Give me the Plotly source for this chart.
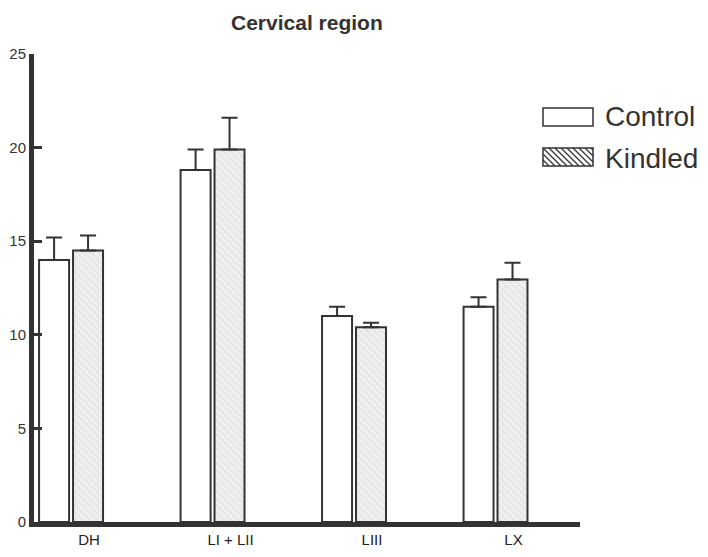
import plotly.graph_objects as go

categories = ["DH", "LI + LII", "LIII", "LX"]
control = [14.0, 18.8, 11.0, 11.5]
control_err = [1.2, 1.1, 0.5, 0.5]
kindled = [14.5, 19.9, 10.4, 12.95]
kindled_err = [0.8, 1.7, 0.25, 0.9]
y_ticks = [0, 5, 10, 15, 20, 25]

W, H = 708, 557
# plot-area edges in page pixels (page body adds an 8px margin)
OFF = 8
L, R, T, B = 34 - OFF, 580 - OFF, 54 - OFF, 522 - OFF

def px(x):
    return (x - OFF - L) / (R - L)

def py(y):
    return (B - (y - OFF)) / (B - T)

dark = "#333333"
font_family = "Liberation Sans, Arial, sans-serif"
fig = go.Figure()
fig.add_trace(go.Bar(
    x=categories, y=control, name="Control", width=0.212, offset=-0.353,
    marker=dict(color="white", line=dict(color=dark, width=2)),
    error_y=dict(type="data", array=control_err, arrayminus=[0]*4, symmetric=False,
                 color=dark, thickness=2, width=8),
    showlegend=False,
))
fig.add_trace(go.Bar(
    x=categories, y=kindled, name="Kindled", width=0.212, offset=-0.113,
    marker=dict(color="#ececec", line=dict(color=dark, width=2),
                pattern=dict(shape="\\", fgcolor="#d4d4d4", bgcolor="#efefef", size=5, solidity=0.3)),
    error_y=dict(type="data", array=kindled_err, arrayminus=[0]*4, symmetric=False,
                 color=dark, thickness=2, width=8),
    showlegend=False,
))

shapes = []
annotations = []
# Legend: Control
shapes.append(dict(type="rect", xref="paper", yref="paper",
                   x0=px(543), x1=px(593), y0=py(126), y1=py(108),
                   line=dict(color=dark, width=1.5), fillcolor="white"))
annotations.append(dict(x=px(603), y=py(117), xref="paper", yref="paper", text="Control",
                        showarrow=False, xanchor="left", yanchor="middle",
                        font=dict(size=28, color=dark, family=font_family)))
# Legend: Kindled (hatched)
kx0, kx1, ky0, ky1 = 543, 593, 148, 166
shapes.append(dict(type="rect", xref="paper", yref="paper",
                   x0=px(kx0), x1=px(kx1), y0=py(ky1), y1=py(ky0),
                   line=dict(color=dark, width=1.5), fillcolor="white"))
step = 6
h = ky1 - ky0
s = kx0 - h
while s < kx1:
    xa, ya = s, ky0
    xb, yb = s + h, ky1
    if xa < kx0:
        ya = ky0 + (kx0 - xa)
        xa = kx0
    if xb > kx1:
        yb = ky1 - (xb - kx1)
        xb = kx1
    if xb > xa:
        shapes.append(dict(type="line", xref="paper", yref="paper",
                           x0=px(xa), y0=py(ya), x1=px(xb), y1=py(yb),
                           line=dict(color=dark, width=1.3)))
    s += step
annotations.append(dict(x=px(603), y=py(158), xref="paper", yref="paper", text="Kindled",
                        showarrow=False, xanchor="left", yanchor="middle",
                        font=dict(size=28, color=dark, family=font_family)))
# Title
annotations.append(dict(x=0.5, y=py(22), xref="paper", yref="paper",
                        text="<b>Cervical region</b>", showarrow=False,
                        xanchor="center", yanchor="middle",
                        font=dict(size=21, color=dark, family=font_family)))

fig.update_layout(
    width=W, height=H,
    margin=dict(l=L, r=W - R, t=T, b=H - B, autoexpand=False),
    plot_bgcolor="white", paper_bgcolor="white",
    barmode="overlay",
    shapes=shapes, annotations=annotations,
    xaxis=dict(range=[-0.389, 3.47], showline=True, linecolor=dark, linewidth=5,
               showgrid=False, zeroline=False, ticks="", automargin=False,
               tickfont=dict(size=15, color="#222222", family=font_family)),
    yaxis=dict(range=[0, 25], tickvals=y_ticks, showline=True, linecolor=dark, linewidth=5,
               showgrid=False, zeroline=False, ticks="inside", ticklen=8, tickwidth=3,
               tickcolor=dark, automargin=False,
               tickfont=dict(size=15, color=dark, family=font_family)),
)

fig.write_html("out.html")
